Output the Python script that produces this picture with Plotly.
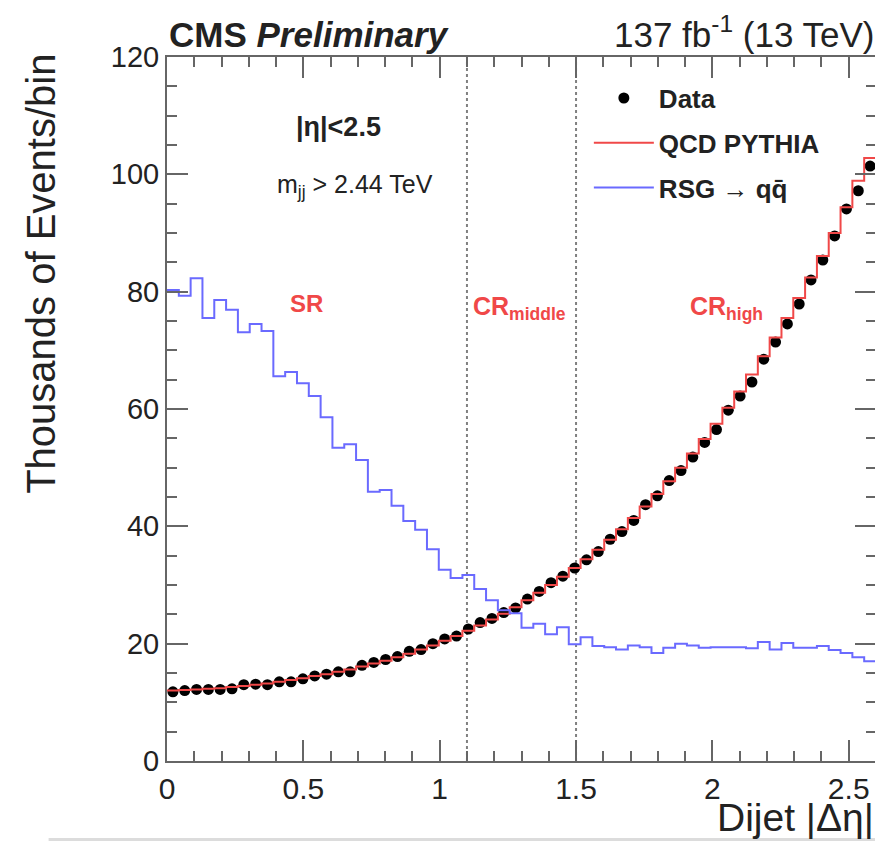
import numpy as np
import plotly.graph_objects as go

# Dijet |delta eta|, 60 bins from 0 to 2.6, values in thousands of events per bin
x_min, x_max, n_bins = 0.0, 2.6, 60

data_counts = [
    11.8, 12.0, 12.2, 12.2, 12.2, 12.3, 13.0, 13.1, 13.0, 13.5,
    13.5, 14.0, 14.5, 14.8, 15.2, 15.2, 16.3, 16.8, 17.3, 17.8,
    18.7, 19.0, 20.0, 20.8, 21.3, 22.5, 23.6, 24.3, 25.3, 26.1,
    27.6, 28.9, 30.4, 31.5, 32.9, 34.3, 35.7, 37.8, 39.1, 41.0,
    43.7, 45.2, 47.8, 49.5, 51.8, 54.3, 56.5, 59.8, 62.2, 64.6,
    68.5, 71.4, 74.5, 77.9, 82.0, 85.4, 89.5, 94.1, 97.2, 101.4,
]

qcd_pythia = [
    12.0, 12.1, 12.2, 12.3, 12.4, 12.6, 12.8, 13.0, 13.2, 13.5,
    13.8, 14.1, 14.5, 14.8, 15.2, 15.6, 16.1, 16.6, 17.1, 17.7,
    18.3, 19.0, 19.7, 20.5, 21.3, 22.2, 23.1, 24.1, 25.1, 26.2,
    27.4, 28.7, 30.0, 31.4, 32.9, 34.4, 36.0, 37.7, 39.5, 41.4,
    43.4, 45.5, 47.7, 50.0, 52.4, 54.9, 57.5, 60.2, 63.0, 65.9,
    69.0, 72.2, 75.5, 78.9, 82.4, 86.1, 90.0, 94.4, 98.9, 102.8,
]

rsg_signal = [
    80.3, 79.3, 82.3, 75.5, 78.6, 76.9, 73.1, 74.5, 73.3, 65.6,
    66.3, 64.4, 62.2, 58.6, 53.4, 54.0, 51.3, 45.9, 46.2, 43.5,
    40.9, 39.4, 36.1, 32.6, 31.2, 31.7, 29.3, 27.4, 25.7, 25.2,
    22.7, 23.4, 21.6, 22.8, 19.9, 21.1, 19.6, 19.4, 19.0, 19.7,
    19.4, 18.4, 19.3, 20.0, 19.7, 19.3, 19.4, 19.4, 19.4, 19.2,
    20.3, 19.0, 20.1, 19.3, 19.3, 19.6, 18.9, 18.4, 17.7, 17.0,
]

region_edges = [1.1, 1.5]

edges = np.linspace(x_min, x_max, n_bins + 1)
centers = 0.5 * (edges[:-1] + edges[1:])

FONT = "Liberation Sans, Arial, Helvetica, sans-serif"
TXT = "#222222"
FRAME = "#666666"
RED = "#f04848"
BLUE = "#6a6aff"

fig = go.Figure()

fig.add_trace(go.Scatter(
    x=centers, y=data_counts, mode="markers", name="Data",
    marker=dict(color="black", size=11, symbol="circle"),
    legendgroup="a",
))
fig.add_trace(go.Scatter(
    x=edges, y=qcd_pythia + [qcd_pythia[-1]], mode="lines", name="QCD PYTHIA",
    line=dict(color=RED, width=2, shape="hv"),
    legendgroup="b",
))
fig.add_trace(go.Scatter(
    x=edges, y=rsg_signal + [rsg_signal[-1]], mode="lines",
    name="RSG \u2192 qq\u0304",
    line=dict(color=BLUE, width=2, shape="hv"),
    legendgroup="c",
))

for xe in region_edges:
    fig.add_shape(type="line", xref="x", yref="paper", x0=xe, x1=xe, y0=0, y1=1,
                  line=dict(color="#808080", width=2, dash="dot"), layer="below")

# thin grey strip at the very bottom of the picture
fig.add_shape(type="rect", xref="paper", yref="paper", x0=-0.167, x1=1.01,
              y0=-0.1136, y1=-0.1095, line=dict(width=0), fillcolor="#dcdcdc")


def note(text, x, y, size, color=TXT, xref="x", yref="y", **kw):
    d = dict(text=text, xref=xref, yref=yref, x=x, y=y, showarrow=False,
             font=dict(size=size, color=color))
    d.update(kw)
    return d


annotations = [
    note("<b>CMS <i>Preliminary</i></b>", 0, 1, 35, xref="paper", yref="paper",
         xanchor="left", yanchor="bottom", yshift=1),
    note("137 fb<sup>-1</sup> (13 TeV)", 1, 1, 35, xref="paper", yref="paper",
         xanchor="right", yanchor="bottom", yshift=1),
    note("Thousands of Events/bin", -0.178, 1.007, 40, xref="paper", yref="paper",
         xanchor="center", yanchor="top", textangle=-90),
    note("Dijet |\u0394\u03b7|", 1, 0, 39, xref="paper", yref="paper",
         xanchor="right", yanchor="top", yshift=-33),
    note("<b>|\u03b7|<2.5</b>", 0.63, 108, 27, xanchor="center", yanchor="middle"),
    note("m<sub>jj</sub> > 2.44 TeV", 0.69, 98, 25, xanchor="center", yanchor="middle"),
    note("<b>SR</b>", 0.51, 78, 24, color=RED, xanchor="center", yanchor="middle"),
    note("<b>CR<sub>middle</sub></b>", 1.115, 77.2, 25, color=RED,
         xanchor="left", yanchor="middle"),
    note("<b>CR<sub>high</sub></b>", 1.91, 77.2, 25, color=RED,
         xanchor="left", yanchor="middle"),
]

axis_common = dict(
    showline=True, linecolor=FRAME, linewidth=2, mirror="ticks",
    ticks="inside", ticklen=21, tickwidth=2, tickcolor=FRAME,
    showgrid=False, zeroline=False,
)

# the page body adds an 8 px margin, so the figure is 8 px smaller each way
fig.update_layout(
    width=875, height=833,
    margin=dict(l=159, r=5, t=49, b=80),
    paper_bgcolor="white", plot_bgcolor="white",
    font=dict(family=FONT, color=TXT),
    annotations=annotations,
    showlegend=True,
    legend=dict(
        x=0.595, y=0.975, xanchor="left", yanchor="top",
        bgcolor="rgba(0,0,0,0)", borderwidth=0,
        font=dict(size=26, color=TXT, weight="bold"),
        tracegroupgap=8, itemwidth=60,
    ),
    xaxis=dict(
        range=[x_min, x_max], dtick=0.5, tick0=0,
        tickfont=dict(size=30, color=TXT), ticklabelstandoff=0,
        minor=dict(dtick=0.1, ticks="inside", ticklen=10, tickwidth=2, tickcolor=FRAME),
        **axis_common,
    ),
    yaxis=dict(
        range=[0, 120], dtick=20, tick0=0,
        tickfont=dict(size=29, color=TXT),
        minor=dict(dtick=5, ticks="inside", ticklen=10, tickwidth=2, tickcolor=FRAME),
        **axis_common,
    ),
)

fig.write_html("out.html")
